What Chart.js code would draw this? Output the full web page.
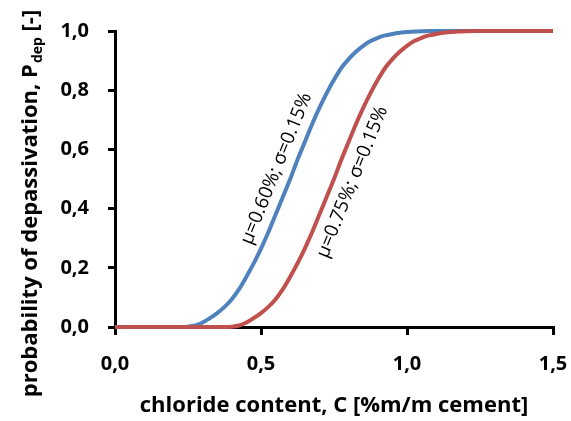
<!DOCTYPE html>
<html><head><meta charset="utf-8">
<script src="https://cdn.jsdelivr.net/npm/chart.js@4.4.1/dist/chart.umd.min.js"></script>
<style>html,body{margin:0;padding:0;background:#fff;}</style>
</head><body>
<canvas id="c" width="571" height="421"></canvas>
<script>
// ---- data ----
const chloride = [0.000,0.025,0.050,0.075,0.100,0.125,0.150,0.175,0.200,0.225,
                  0.250,0.275,0.300,0.325,0.350,0.375,0.400,0.425,0.450,0.475,
                  0.500,0.525,0.550,0.575,0.600,0.625,0.650,0.675,0.700,0.725,
                  0.750,0.775,0.800,0.825,0.850,0.875,0.900,0.925,0.950,0.975,
                  1.000,1.025,1.050,1.075,1.100,1.125,1.150,1.175,1.200,1.225,
                  1.250,1.275,1.300,1.325,1.350,1.375,1.400,1.425,1.450,1.475,1.500];
const pdepMu060 = [0,0,0,0,0,0,0,0,0,0,
                   0.001,0.005,0.015,0.03,0.047,0.068,0.094,0.128,0.17,0.215,
                   0.265,0.32,0.38,0.44,0.50,0.565,0.625,0.685,0.74,0.79,
                   0.835,0.875,0.905,0.93,0.95,0.966,0.977,0.985,0.99,0.994,
                   0.997,0.998,0.999,1,1,1,1,1,1,1,
                   1,1,1,1,1,1,1,1,1,1,1];
const pdepMu075 = [0,0,0,0,0,0,0,0,0,0,
                   0,0,0,0,0,0,0.001,0.005,0.015,0.03,
                   0.047,0.068,0.094,0.128,0.17,0.215,0.265,0.32,0.38,0.44,
                   0.50,0.565,0.625,0.685,0.74,0.79,0.835,0.875,0.905,0.93,
                   0.95,0.966,0.977,0.985,0.99,0.994,0.997,0.998,0.999,1,
                   1,1,1,1,1,1,1,1,1,1,1];
const seriesLabels = ['μ=0.60%; σ=0.15%', 'μ=0.75%; σ=0.15%'];
const labelAnchorX = [0.553, 0.813];
const labelAnchorY = [0.535, 0.49];
const xTickValues = [0, 0.5, 1.0, 1.5];
const yTickValues = [0, 0.2, 0.4, 0.6, 0.8, 1.0];
const xTitle = 'chloride content, C [%m/m cement]';
const yTitleMain = 'probability of depassivation, P';
const yTitleSub = 'dep';
const yTitleTail = ' [-]';

const BLUE = '#4F81BD', RED = '#C0504D';
const FONT = '"Open Sans", Lato, sans-serif';

const toPts = arr => chloride.map((x, i) => ({x: x, y: arr[i]}));

const decor = {
  id: 'decor',
  afterDatasetsDraw(chart) {
    const ctx = chart.ctx;
    const xs = chart.scales.x, ys = chart.scales.y;
    ctx.save();
    ctx.fillStyle = '#000';
    ctx.font = '19px ' + FONT;
    ctx.textAlign = 'center';
    ctx.textBaseline = 'middle';
    for (let i = 0; i < seriesLabels.length; i++) {
      const px = xs.getPixelForValue(labelAnchorX[i]);
      const py = ys.getPixelForValue(labelAnchorY[i]);
      ctx.save();
      ctx.translate(px, py);
      ctx.rotate(-68 * Math.PI / 180);
      ctx.fillText(seriesLabels[i], 0, 0);
      ctx.restore();
    }
    ctx.restore();
  },
  afterDraw(chart) {
    const ctx = chart.ctx;
    const ca = chart.chartArea;
    ctx.save();
    ctx.fillStyle = '#000';
    ctx.font = 'bold 22px ' + FONT;
    ctx.textAlign = 'center';
    ctx.textBaseline = 'alphabetic';
    ctx.fillText(xTitle, (ca.left + ca.right) / 2, 412);
    const big = 'bold 22px ' + FONT, small = 'bold 14px ' + FONT;
    ctx.font = big; const w1 = ctx.measureText(yTitleMain).width; const w3 = ctx.measureText(yTitleTail).width;
    ctx.font = small; const w2 = ctx.measureText(yTitleSub).width;
    const total = w1 + w2 + w3;
    ctx.translate(37, 204);
    ctx.rotate(-Math.PI / 2);
    ctx.textAlign = 'left';
    let x0 = -total / 2;
    ctx.font = big; ctx.fillText(yTitleMain, x0, 0);
    ctx.font = small; ctx.fillText(yTitleSub, x0 + w1 + 1, 5);
    ctx.font = big; ctx.fillText(yTitleTail, x0 + w1 + w2 + 1, 0);
    ctx.restore();
  }
};

new Chart(document.getElementById('c'), {
  type: 'line',
  data: {
    datasets: [
      {label: seriesLabels[1], data: toPts(pdepMu075), borderColor: RED, borderWidth: 4, pointRadius: 0, cubicInterpolationMode: 'monotone', fill: false, clip: 6, order: 1},
      {label: seriesLabels[0], data: toPts(pdepMu060), borderColor: BLUE, borderWidth: 4, pointRadius: 0, cubicInterpolationMode: 'monotone', fill: false, clip: 6, order: 2}
    ]
  },
  options: {
    responsive: false,
    animation: false,
    devicePixelRatio: 1,
    layout: {padding: {left: 0, right: 18, top: 31, bottom: 0}},
    plugins: {legend: {display: false}, tooltip: {enabled: false}},
    scales: {
      x: {
        type: 'linear', min: 0, max: 1.5,
        afterFit: s => { s.height = 94; s.paddingLeft = 0; s.paddingRight = 0; },
        afterBuildTicks: s => { s.ticks = xTickValues.map(v => ({value: v})); },
        border: {display: true, color: '#000', width: 3},
        grid: {drawOnChartArea: false, drawTicks: true, tickLength: 8, color: '#000', lineWidth: 3},
        ticks: {color: '#000', font: {family: FONT, size: 20, weight: 'bold'}, padding: 17, maxRotation: 0,
                callback: v => v.toFixed(1).replace('.', ',')}
      },
      y: {
        min: 0, max: 1,
        afterFit: s => { s.width = 115; s.paddingTop = 0; s.paddingBottom = 0; },
        afterBuildTicks: s => { s.ticks = yTickValues.map(v => ({value: v})); },
        border: {display: true, color: '#000', width: 3},
        grid: {drawOnChartArea: false, drawTicks: true, tickLength: 7, color: '#000', lineWidth: 3},
        ticks: {color: '#000', font: {family: FONT, size: 20, weight: 'bold'}, padding: 19,
                callback: v => v.toFixed(1).replace('.', ',')}
      }
    }
  },
  plugins: [decor]
});
</script>
</body></html>
